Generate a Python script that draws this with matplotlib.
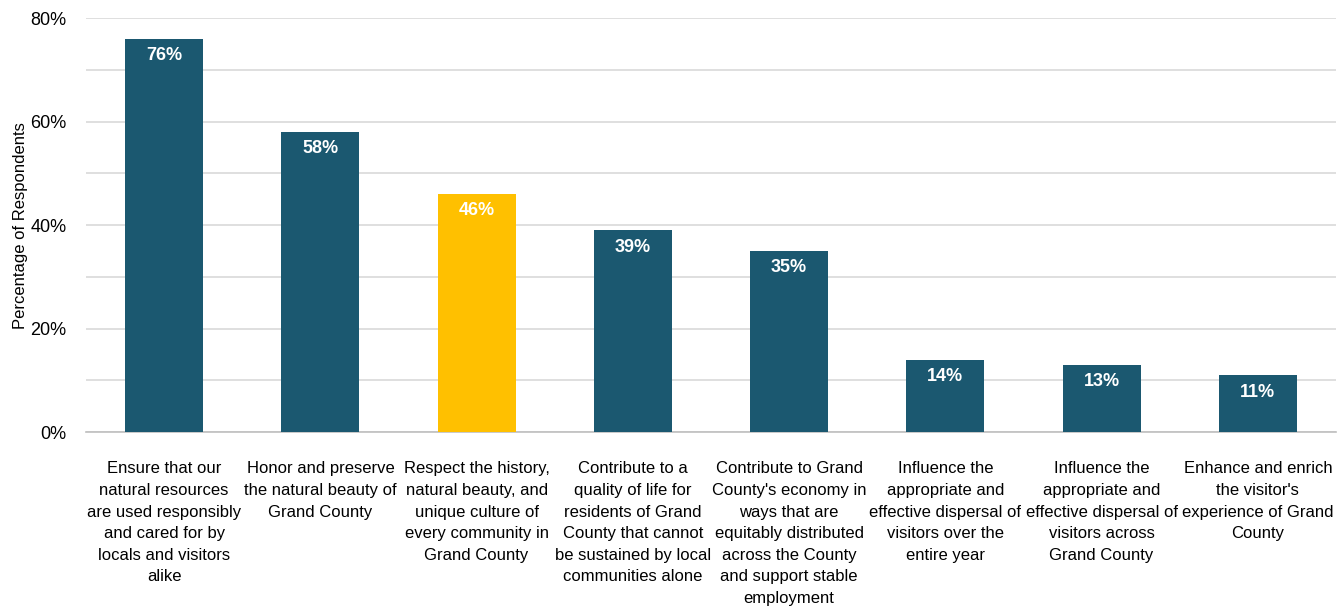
import matplotlib.pyplot as plt
from matplotlib.ticker import MultipleLocator, FuncFormatter
from matplotlib import font_manager

names = {f.name for f in font_manager.fontManager.ttflist}
font = 'Liberation Sans Narrow' if 'Liberation Sans Narrow' in names else 'Liberation Sans'
plt.rcParams['font.family'] = [font, 'DejaVu Sans']

categories = [
    "Ensure that our\nnatural resources\nare used responsibly\nand cared for by\nlocals and visitors\nalike",
    "Honor and preserve\nthe natural beauty of\nGrand County",
    "Respect the history,\nnatural beauty, and\nunique culture of\nevery community in\nGrand County",
    "Contribute to a\nquality of life for\nresidents of Grand\nCounty that cannot\nbe sustained by local\ncommunities alone",
    "Contribute to Grand\nCounty's economy in\nways that are\nequitably distributed\nacross the County\nand support stable\nemployment",
    "Influence the\nappropriate and\neffective dispersal of\nvisitors over the\nentire year",
    "Influence the\nappropriate and\neffective dispersal of\nvisitors across\nGrand County",
    "Enhance and enrich\nthe visitor's\nexperience of Grand\nCounty",
]
values = [76, 58, 46, 39, 35, 14, 13, 11]
highlight = 2

blue = '#1B5870'
gold = '#FFC000'
colors = [gold if i == highlight else blue for i in range(len(values))]

fig = plt.figure(figsize=(13.44, 6.07), dpi=100)
ax = fig.add_axes([0.064, 0.288, 0.93, 0.682])

x = range(len(values))
bars = ax.bar(x, values, width=0.5, color=colors, zorder=3)

for b, v in zip(bars, values):
    ax.text(b.get_x() + b.get_width() / 2, v - 1.6, f"{v}%", ha='center', va='top',
            color='white', fontsize=13, fontweight='bold', zorder=4)

ax.set_xlim(-0.5, len(values) - 0.5)
ax.set_ylim(0, 80)
ax.yaxis.set_major_locator(MultipleLocator(20))
ax.yaxis.set_minor_locator(MultipleLocator(10))
ax.yaxis.set_major_formatter(FuncFormatter(lambda v, p: f"{v:.0f}%"))
ax.grid(axis='y', which='both', color='#D9D9D9', linewidth=1.2, zorder=0)
ax.tick_params(axis='y', which='both', length=0, labelsize=13, pad=14)
ax.tick_params(axis='x', length=0, pad=21)
ax.set_xticks(list(x))
ax.set_xticklabels(categories, fontsize=12, linespacing=1.55)
for s in ['top', 'right', 'left']:
    ax.spines[s].set_visible(False)
ax.spines['bottom'].set_color('#BFBFBF')
ax.spines['bottom'].set_linewidth(1.2)
ax.set_ylabel('Percentage of Respondents', fontsize=12, labelpad=2)

fig.savefig('out.png', dpi=100)
